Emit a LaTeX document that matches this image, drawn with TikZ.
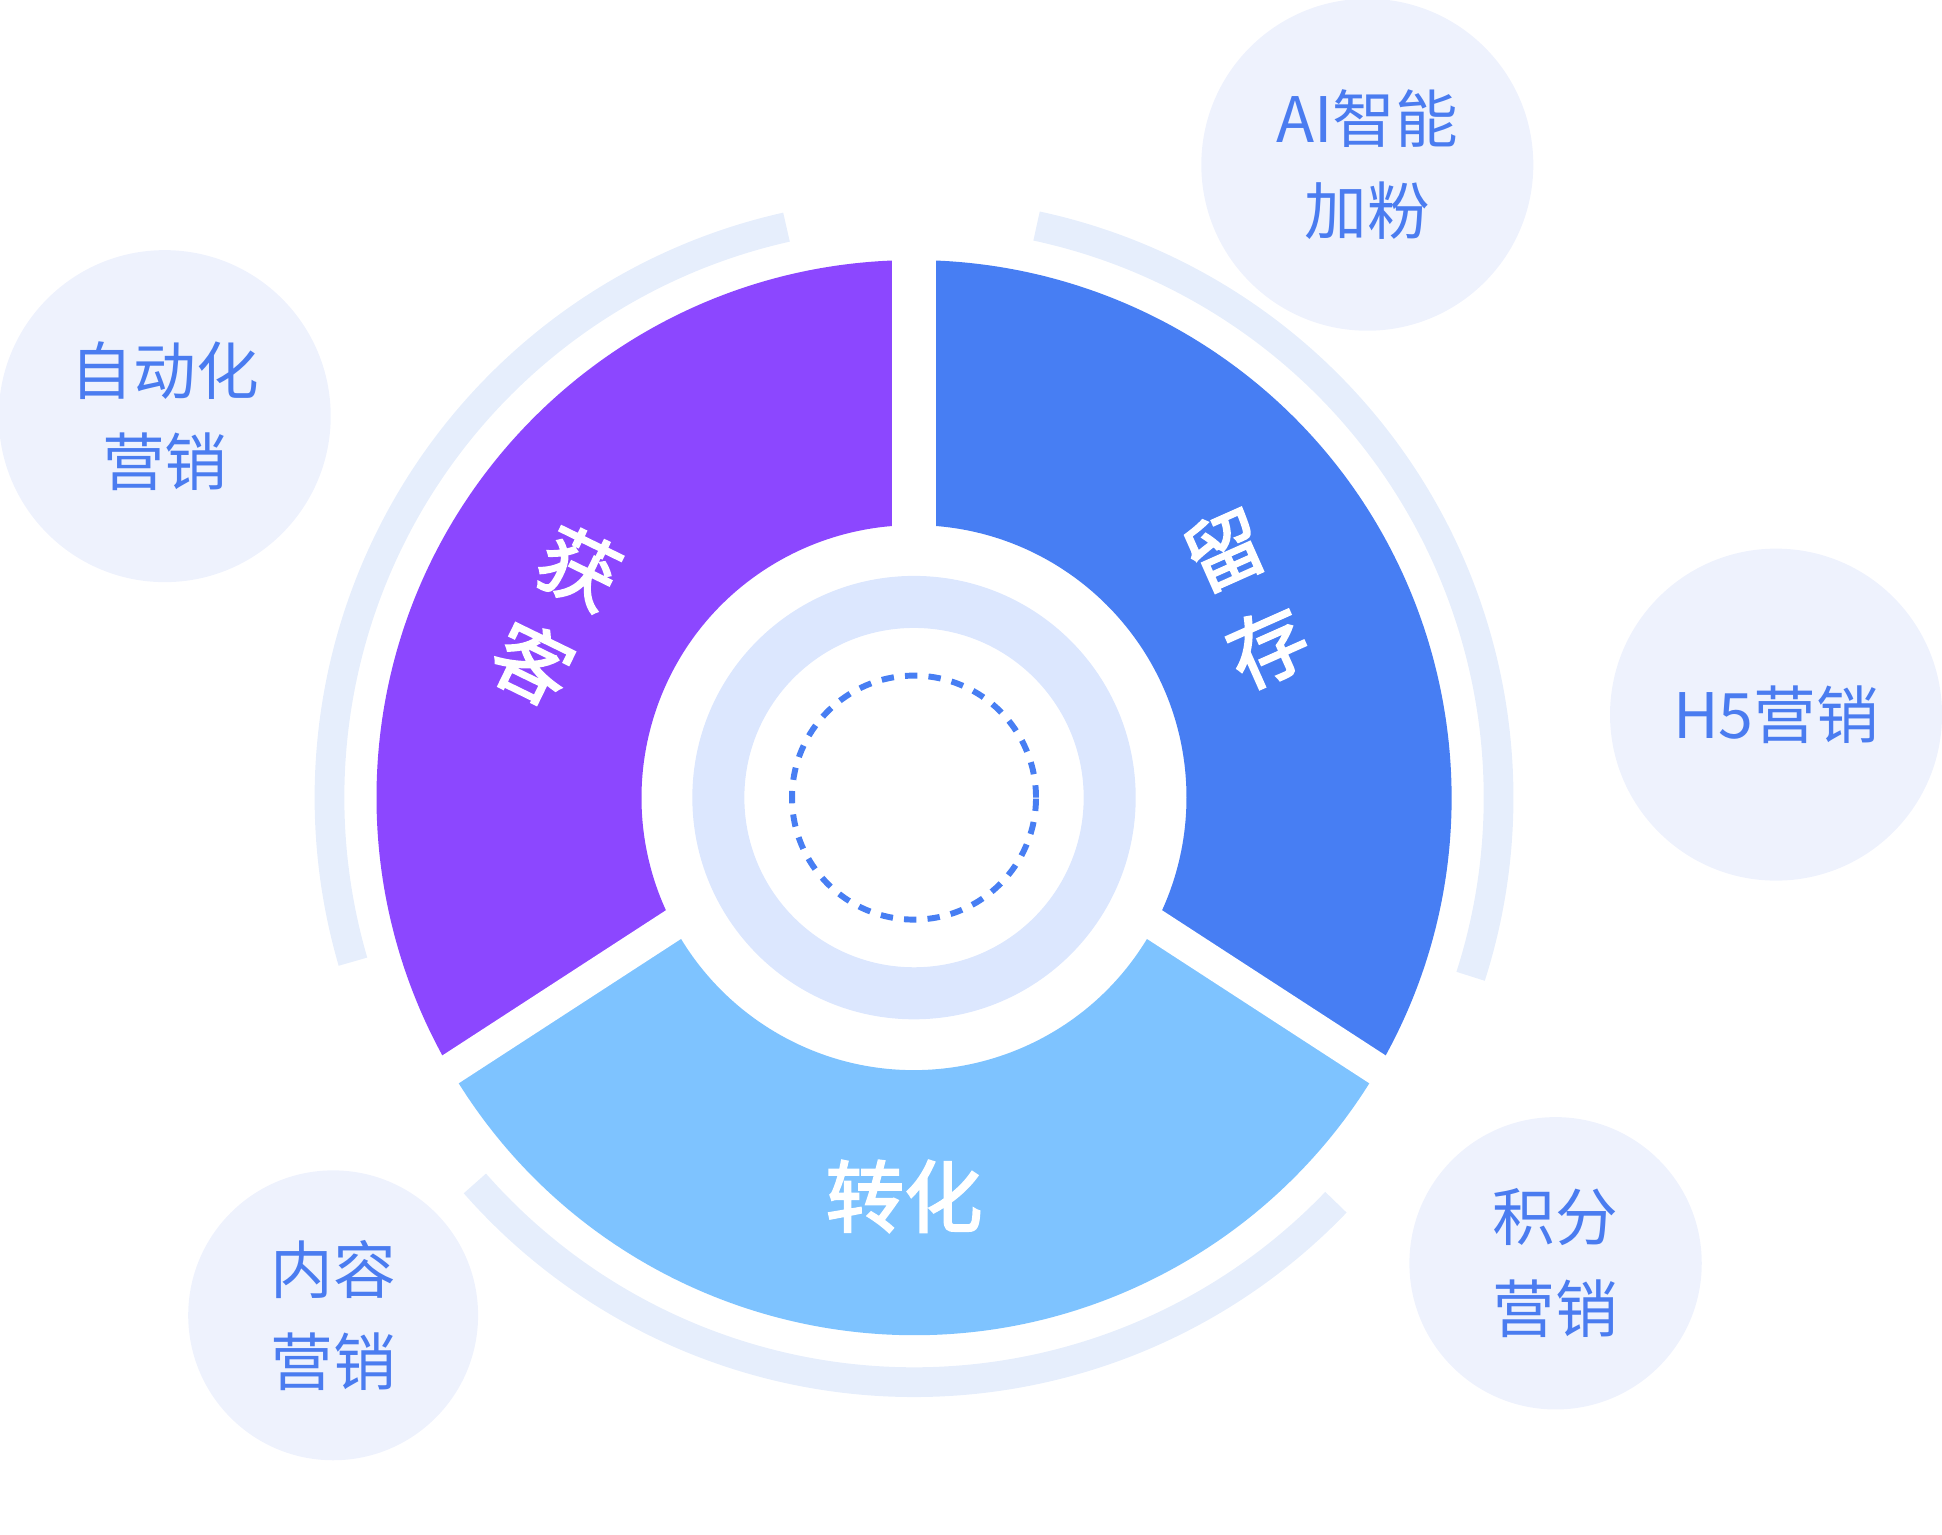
\documentclass[tikz,border=0pt]{standalone}
\usepackage{fontspec}
\setmainfont{Noto Sans CJK SC}
\newfontfamily\segfont[FakeBold=2.5]{Noto Sans CJK SC}
\definecolor{segpurple}{HTML}{8C47FF}
\definecolor{segblue}{HTML}{477EF3}
\definecolor{seglight}{HTML}{7EC3FF}
\definecolor{ringfill}{HTML}{DCE7FE}
\definecolor{satfill}{HTML}{EEF2FD}
\definecolor{bandfill}{HTML}{E6EEFC}
\definecolor{txtblue}{HTML}{4A7CF0}
\begin{document}
\begin{tikzpicture}[
        x=0.025cm, y=0.025cm,
        seg/.style={text=white, align=center, inner sep=0pt, font={\segfont\fontsize{45pt}{61pt}\selectfont}},
        sat/.style={circle, fill=satfill, inner sep=0pt, minimum size=6.7cm, align=center, text=txtblue, font={\fontsize{36pt}{52.6pt}\selectfont}},
        band/.style={draw=bandfill, line width=0.6cm},
        gap/.style={draw=white, line width=0.875cm},
        sidegap/.style={draw=white, line width=0.65cm}
    ]
    \useasboundingbox (-738,-595) rectangle (830,644);
    \fill[segpurple] (90:220) -- (90:434) arc[start angle=90, end angle=210, radius=434] -- (210:220) arc[start angle=210, end angle=90, radius=220] -- cycle;
    \fill[segblue] (-30:220) -- (-30:434) arc[start angle=-30, end angle=90, radius=434] -- (90:220) arc[start angle=90, end angle=-30, radius=220] -- cycle;
    \fill[seglight] (210:220) -- (210:434) arc[start angle=210, end angle=330, radius=434] -- (330:220) arc[start angle=330, end angle=210, radius=220] -- cycle;
    \draw[gap] (90:200) -- (90:445);
    \draw[sidegap] ([shift={(-10.8,16.6)}]213:190) -- ([shift={(-10.8,16.6)}]213:450);
    \draw[sidegap] ([shift={(10.8,16.6)}]327:190) -- ([shift={(10.8,16.6)}]327:450);
    \draw[ringfill, line width=1.05cm] (0,0) circle (158);
    \draw[segblue, line width=0.12cm, dash pattern=on 0.25cm off 0.225cm] (0,0) circle (98.5);
    \draw[band] (102.6:472) arc[start angle=102.6, end angle=196.3, radius=472];
    \draw[band] (221.3:472) arc[start angle=221.3, end angle=316.2, radius=472];
    \draw[band] (-17.8:472) arc[start angle=-17.8, end angle=77.9, radius=472];
    \node[seg, rotate=-26] (acq) at (-289,147) {获\\客};
    \node[seg, rotate=24] (ret) at (268,161) {留\\存};
    \node[seg] (conv) at (-8,-322) {转化};
    \node[sat] (ai) at (366,511) {AI智能\\加粉};
    \node[sat] (auto) at (-605,308) {自动化\\营销};
    \node[sat] (hfive) at (696,67) {H5营销};
    \node[sat, minimum size=5.9cm] (pts) at (518,-376) {积分\\营销};
    \node[sat, minimum size=5.85cm] (cont) at (-469,-418) {内容\\营销};
\end{tikzpicture}
\end{document}
